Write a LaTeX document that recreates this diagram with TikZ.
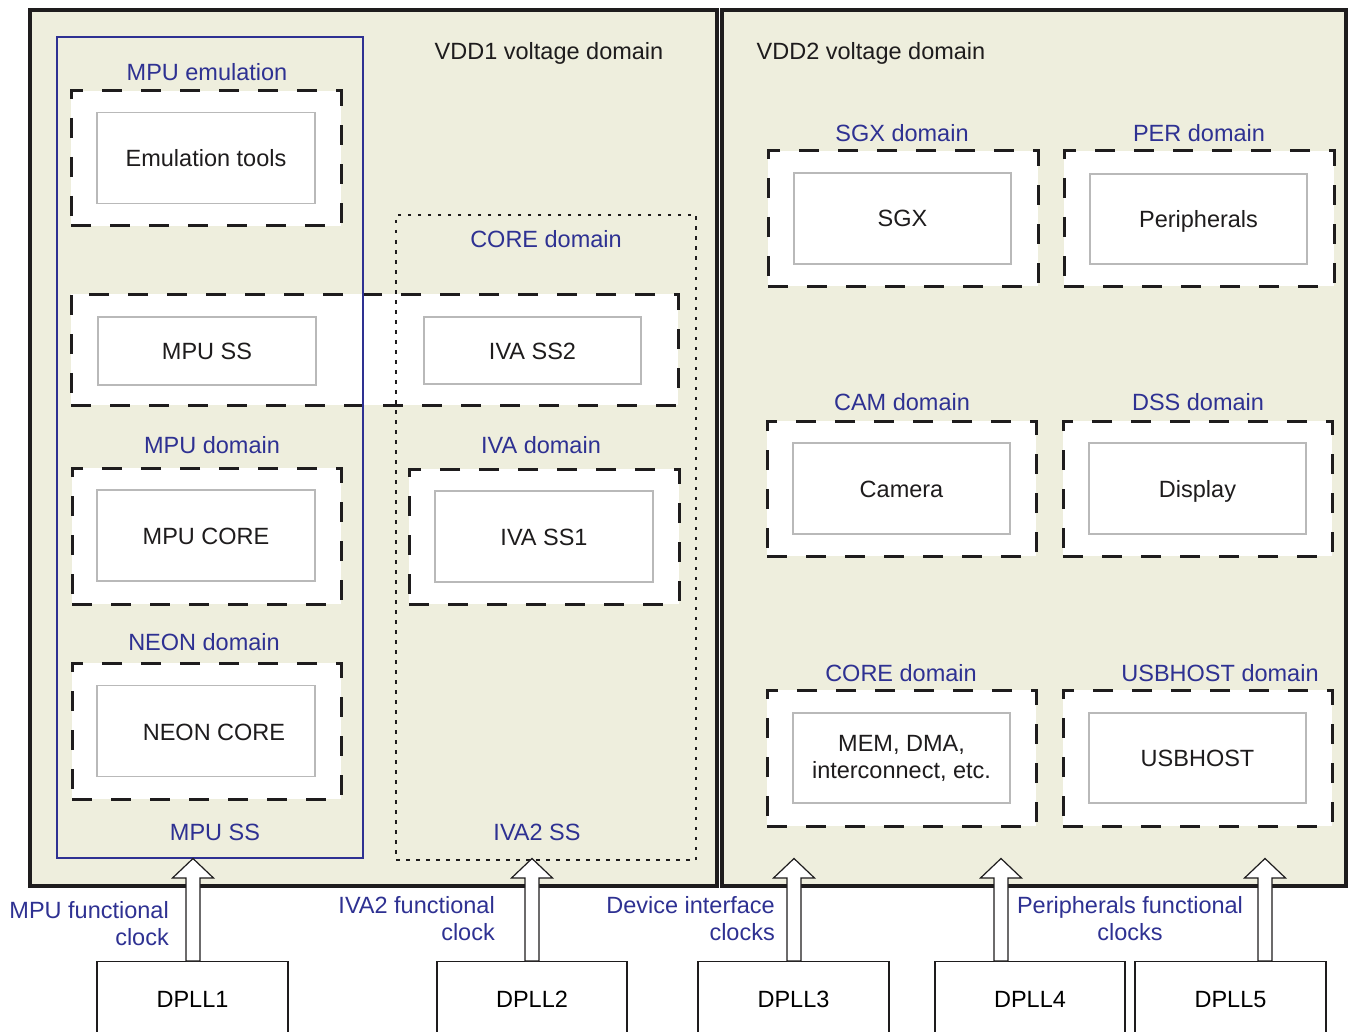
\documentclass[tikz,border=0pt]{standalone}
\usepackage{fontspec}
\setmainfont{Liberation Sans}
\usetikzlibrary{calc}
\definecolor{tiblue}{RGB}{46,49,146}
\definecolor{beige}{RGB}{238,238,221}
\definecolor{boxgray}{RGB}{185,185,185}
\definecolor{ink}{RGB}{30,28,29}
\newcommand\clkarrow[2]{%
  \draw[blockarr] ($(#1.north)+(#2-7,0)$) -- ++(0,-83) -- ++(-13.5,0) -- ++(20.5,-19.5) -- ++(20.5,19.5) -- ++(-13.5,0) -- ++(0,83) -- cycle;}
\begin{document}
\begin{tikzpicture}[x=1pt,y=-1pt,
  font=\fontsize{23.5}{27}\selectfont,
  vdd/.style={draw=ink, line width=4pt, fill=beige, inner sep=0pt, outer sep=0pt},
  dombox/.style={draw=ink, line width=3pt, dash pattern=on 20pt off 19pt, fill=white, inner sep=0pt, minimum width=270pt, minimum height=135pt},
  inbox/.style={draw=boxgray, line width=1.3pt, fill=white, inner sep=0pt, minimum width=218pt, minimum height=91pt, align=center, text=ink},
  onel/.style={text height=17pt, text depth=0pt},
  lbl/.style={text=tiblue, inner sep=0pt, onel},
  txt/.style={text=ink, inner sep=0pt, onel},
  clk/.style={text=tiblue, inner sep=0pt, align=right},
  dpll/.style={draw=ink, line width=1.2pt, fill=white, minimum width=191pt, minimum height=74pt, anchor=north, inner sep=0pt, onel, text=black},
  blockarr/.style={draw=ink, line width=1.2pt, fill=white, line join=miter}
]
\useasboundingbox (0,0) rectangle (1348,1032);
\clip (0,0) rectangle (1348,1032);

% voltage domains
\node[vdd, minimum width=687pt, minimum height=876pt] (vdd1) at (373.5,448) {};
\node[vdd, minimum width=624pt, minimum height=876pt] (vdd2) at (1034,448) {};
\node[txt] (vdd1lbl) at (549,51) {VDD1 voltage domain};
\node[txt] (vdd2lbl) at (871,51) {VDD2 voltage domain};

% ---- VDD1 content ----
\node[dombox] (emu) at (206,158.5) {};
\node[inbox, onel] (emutools) at (206,158) {Emulation tools};

\node[dombox, minimum width=607pt, minimum height=111pt] (wide) at (374.5,349.5) {};
\node[inbox, onel, minimum height=68pt] (mpussbox) at (207,351) {MPU SS};
\node[inbox, onel, minimum width=217pt, minimum height=67pt] (ivass2) at (532.5,350.5) {IVA SS2};

\node[dombox, minimum width=269pt, minimum height=136pt] (mpudom) at (206.5,536) {};
\node[inbox, onel] (mpucore) at (206,535.5) {MPU CORE};

\node[dombox] (ivadom) at (544,536.5) {};
\node[inbox, onel] (ivass1) at (544,536.5) {IVA SS1};

\node[dombox, minimum width=269pt, minimum height=136pt] (neondom) at (206.5,731) {};
\node[inbox] (neoncore) at (206,731) {};
\node[txt] (neontxt) at (214,732) {NEON CORE};

% MPU SS (blue) and CORE domain (dotted)
\node[draw=tiblue, line width=2.2pt, minimum width=306pt, minimum height=821pt, inner sep=0pt] (mpuss) at (210,447.5) {};
\node[draw=ink, line width=2.8pt, dash pattern=on 3.5pt off 6.5pt, minimum width=300pt, minimum height=645pt, inner sep=0pt] (coredom) at (546,537.5) {};

\node[lbl] (lemu) at (207,72) {MPU emulation};
\node[lbl] (lcore) at (546,239) {CORE domain};
\node[lbl] (lmpu) at (212,445) {MPU domain};
\node[lbl] (liva) at (541,445) {IVA domain};
\node[lbl] (lneon) at (204,642) {NEON domain};
\node[lbl] (lmpuss) at (215,832) {MPU SS};
\node[lbl] (liva2) at (537,832) {IVA2 SS};

% ---- VDD2 content ----
\node[dombox] (sgxdom) at (903,218.5) {};
\node[inbox, onel, minimum width=217pt] (sgx) at (902.5,218.5) {SGX};
\node[dombox] (perdom) at (1199,218.5) {};
\node[inbox, onel, minimum width=217pt, minimum height=90pt] (per) at (1198.5,219) {Peripherals};

\node[dombox, minimum width=269pt] (camdom) at (901.5,488.5) {};
\node[inbox, onel, minimum width=217pt] (cam) at (901.5,488.5) {Camera};
\node[dombox, minimum width=269pt] (dssdom) at (1197.5,488.5) {};
\node[inbox, onel, minimum width=217pt] (dss) at (1197.5,488.5) {Display};

\node[dombox, minimum width=269pt, minimum height=136pt] (core2dom) at (901.5,758) {};
\node[inbox, minimum width=217pt, minimum height=90pt] (mem) at (901.5,758) {MEM, DMA,\\interconnect, etc.};
\node[dombox, minimum width=269pt, minimum height=136pt] (usbdom) at (1197.5,758) {};
\node[inbox, onel, minimum width=217pt, minimum height=90pt] (usb) at (1197.5,758) {USBHOST};

\node[lbl] (lsgx) at (902,133) {SGX domain};
\node[lbl] (lper) at (1199,133) {PER domain};
\node[lbl] (lcam) at (902,402) {CAM domain};
\node[lbl] (ldss) at (1198,402) {DSS domain};
\node[lbl] (lcore2) at (901,673) {CORE domain};
\node[lbl] (lusb) at (1220,673) {USBHOST domain};

% ---- DPLLs and clocks ----
\node[dpll] (d1) at (192.5,961) {DPLL1};
\node[dpll, minimum width=190pt] (d2) at (532,961) {DPLL2};
\node[dpll] (d3) at (793.5,961) {DPLL3};
\node[dpll, minimum width=190pt] (d4) at (1030,961) {DPLL4};
\node[dpll] (d5) at (1230.5,961) {DPLL5};

\clkarrow{d1}{0.5}
\clkarrow{d2}{0}
\clkarrow{d3}{0.5}
\clkarrow{d4}{-29}
\clkarrow{d5}{34.5}

\node[clk, anchor=east] (c1) at (169,923.5) {MPU functional\\clock};
\node[clk, anchor=east] (c2) at (495,918.5) {IVA2 functional\\clock};
\node[clk, anchor=east] (c3) at (775,918.5) {Device interface\\clocks};
\node[clk, align=center] (c4) at (1130,918.5) {Peripherals functional\\clocks};
\end{tikzpicture}
\end{document}
